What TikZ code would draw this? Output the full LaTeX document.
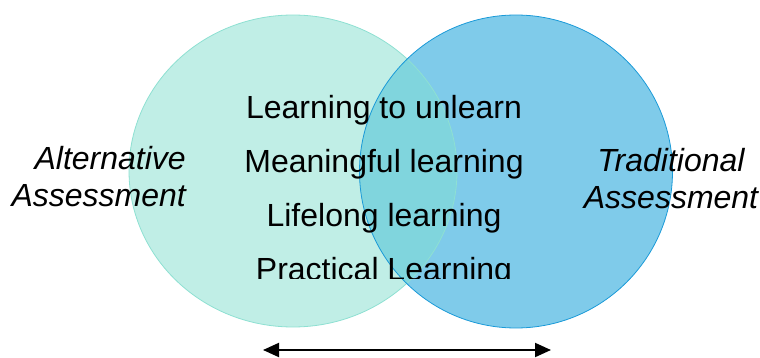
\documentclass[tikz,border=0pt]{standalone}
\usepackage{fontspec}
\setmainfont{Liberation Sans}
\usetikzlibrary{arrows.meta}
\usetikzlibrary{positioning}
\definecolor{mint}{HTML}{C0EEE6}
\definecolor{mintline}{HTML}{8EE0D2}
\definecolor{sky}{HTML}{7FCBEA}
\definecolor{skyline}{HTML}{1A9AD8}
\definecolor{overlap}{HTML}{80D5DD}
\tikzstyle{item}=[anchor=base, inner sep=0pt, font={\fontsize{32pt}{37pt}\selectfont}]
\tikzstyle{side}=[inner sep=0pt, font={\fontsize{32pt}{37pt}\selectfont\itshape}]

\begin{document}
\begin{tikzpicture}[x=1pt,y=-1pt,node distance=54pt]
    \useasboundingbox (0,0) rectangle (760,358);

    % the two sets
    \fill[mint] (293,171) ellipse [x radius=164, y radius=156];
    \fill[sky] (516,171.5) circle (156.5);
    \begin{scope}
      \clip (293,171) ellipse [x radius=164, y radius=156];
      \fill[overlap] (516,171.5) circle (156.5);
    \end{scope}
    \draw[mintline, line width=0.8pt] (293,171) ellipse [x radius=164, y radius=156];
    \draw[skyline, line width=0.8pt] (516,171.5) circle (156.5);

    \node [side, anchor=base east, align=right] (alt) at (186,207) {Alternative\\Assessment};
    \node [side, anchor=base, align=center] (trad) at (671,208) {Traditional\\Assessment};

    % shared ideas, last line cut off by the box
    \begin{scope}
      \clip (0,0) rectangle (760,278);
      \node [item] (l1) at (384,118.5) {Learning to unlearn};
      \node [item] (l2) [below of=l1] {Meaningful learning};
      \node [item] (l3) [below of=l2] {Lifelong learning};
      \node [item] (l4) [below of=l3] {Practical Learning};
    \end{scope}

    \coordinate (la) at (263,350);
    \coordinate (ra) at (551,350);
    \draw[{Triangle[length=16pt,width=14pt]}-{Triangle[length=16pt,width=14pt]}, line width=2pt] (la) -- (ra);
\end{tikzpicture}
\end{document}
